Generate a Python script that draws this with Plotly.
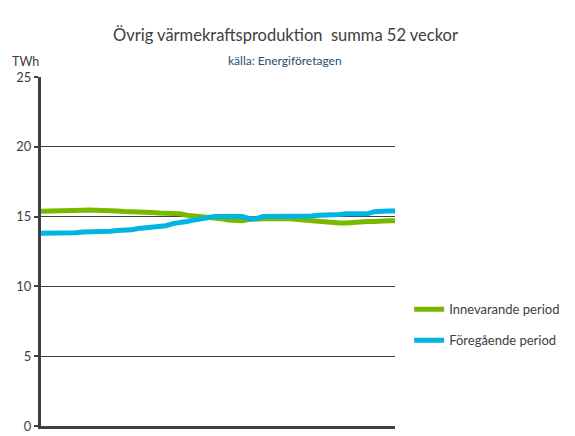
import plotly.graph_objects as go

weeks = list(range(1, 53))
innevarande = [15.38, 15.38, 15.38, 15.38, 15.38, 15.4, 15.45, 15.47, 15.47, 15.47,
               15.45, 15.4, 15.36, 15.36, 15.36, 15.35, 15.3, 15.25, 15.25, 15.25,
               15.2, 15.1, 15.05, 15.05, 14.95, 14.9, 14.85, 14.75, 14.7, 14.7,
               14.8, 14.85, 14.85, 14.85, 14.85, 14.9, 14.85, 14.8, 14.75, 14.7,
               14.7, 14.65, 14.6, 14.55, 14.55, 14.6, 14.6, 14.65, 14.65, 14.7,
               14.7, 14.7]
foregaende = [13.8, 13.8, 13.8, 13.8, 13.8, 13.85, 13.9, 13.9, 13.92, 13.95,
              13.95, 14.0, 14.0, 14.05, 14.15, 14.2, 14.2, 14.25, 14.35, 14.5,
              14.55, 14.65, 14.75, 14.85, 14.95, 15.0, 15.0, 15.0, 15.0, 15.0,
              14.85, 14.85, 15.0, 15.0, 15.0, 15.0, 15.0, 15.0, 15.0, 15.05,
              15.1, 15.1, 15.1, 15.15, 15.2, 15.2, 15.2, 15.2, 15.35, 15.4,
              15.4, 15.4]
y_ticks = [0, 5, 10, 15, 20, 25]

FONT = "Lato, Calibri, sans-serif"

fig = go.Figure()
fig.add_trace(go.Scatter(x=weeks, y=innevarande, mode="lines", name="Innevarande period",
                         line=dict(color="#7AB800", width=5), legendgroup="a"))
fig.add_trace(go.Scatter(x=weeks, y=foregaende, mode="lines", name="Föregående period",
                         line=dict(color="#00B5E2", width=5), legendgroup="b"))

# page has an 8px body margin, so the figure is sized/offset to compensate
fig.update_layout(
    width=567, height=428,
    margin=dict(l=33, r=175, t=69, b=10),
    paper_bgcolor="white", plot_bgcolor="white",
    font=dict(family=FONT, color="#404040", size=13),
    showlegend=True,
    legend=dict(x=1.04, y=0.29, xanchor="left", yanchor="middle",
                font=dict(size=13, color="#404040"), tracegroupgap=11,
                itemwidth=30, bgcolor="rgba(0,0,0,0)"),
    xaxis=dict(range=[1, 52], showgrid=False, showticklabels=False, ticks="",
               showline=True, linecolor="#404040", linewidth=3, zeroline=False,
               automargin=False),
    yaxis=dict(range=[0, 25], tickvals=y_ticks, showgrid=True, gridcolor="#404040",
               gridwidth=1, showline=True, linecolor="#404040", linewidth=3,
               ticks="outside", ticklen=4, tickwidth=2, tickcolor="#404040",
               zeroline=False, tickfont=dict(size=13, color="#404040"),
               automargin=False),
    annotations=[
        dict(text="Övrig värmekraftsproduktion  summa 52 veckor", xref="paper", yref="paper",
             x=0.69, y=1.0, yshift=42, showarrow=False, xanchor="center", yanchor="middle",
             font=dict(size=16.5, color="#404040", family=FONT)),
        dict(text="källa: Energiföretagen", xref="paper", yref="paper",
             x=0.69, y=1.0, yshift=17, showarrow=False, xanchor="center", yanchor="middle",
             font=dict(size=12, color="#1F4E79", family=FONT)),
        dict(text="TWh", xref="paper", yref="paper", x=0, y=1.0, xshift=-16, yshift=16,
             showarrow=False, xanchor="center", yanchor="middle",
             font=dict(size=12.5, color="#404040", family=FONT)),
    ],
)

fig.write_html("out.html")
